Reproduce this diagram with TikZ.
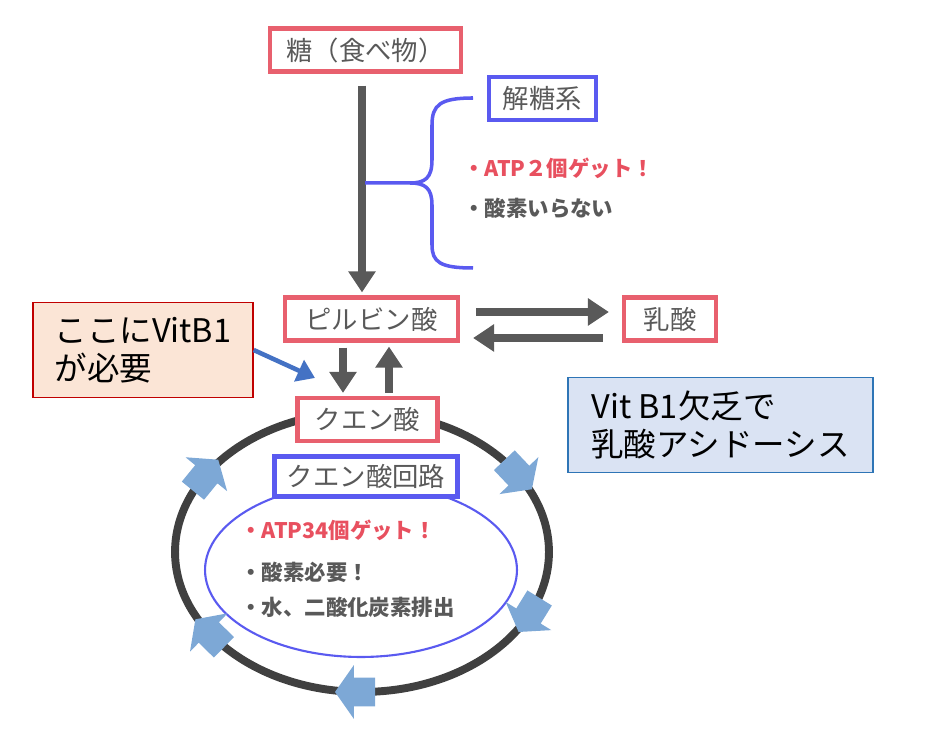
\documentclass[tikz,border=0pt]{standalone}
\usepackage{fontspec}
\setmainfont{Noto Sans CJK JP}
\usetikzlibrary{arrows.meta,shapes.arrows,calc}
\definecolor{boxred}{RGB}{232,96,110}
\definecolor{boxblue}{RGB}{90,90,240}
\definecolor{txtgray}{RGB}{89,89,89}
\definecolor{arrgray}{RGB}{89,89,89}
\definecolor{ringgray}{RGB}{64,64,64}
\definecolor{cyclearr}{RGB}{125,168,214}
\definecolor{bulletred}{RGB}{232,80,95}
\definecolor{notered}{RGB}{192,0,0}
\definecolor{notefill}{RGB}{251,229,214}
\definecolor{infoblue}{RGB}{46,117,182}
\definecolor{infofill}{RGB}{218,227,243}
\definecolor{pointblue}{RGB}{68,114,196}
\newcommand\boxlabelfont{\fontsize{15}{18}\selectfont}
\newcommand\bulletfont{\fontsize{12.2}{15}\selectfont\bfseries}
\newcommand\calloutfont{\fontsize{18.5}{21.5}\selectfont}
\begin{document}
\begin{tikzpicture}[x=0.02cm, y=-0.02cm,
		redbox/.style={draw=boxred, line width=2.4pt, fill=white, text=txtgray, font=\boxlabelfont, minimum height=0.86cm, inner sep=0pt},
		bluebox/.style={redbox, draw=boxblue},
		flow/.style={draw=arrgray, line width=4pt, -{Triangle[length=12pt,width=15pt]}},
		bullet/.style={anchor=west, font=\bulletfont, text=txtgray, inner sep=0pt},
		cyclearrow/.style={shape=single arrow, fill=cyclearr, minimum height=0.8cm, single arrow head extend=0.25cm, single arrow tip angle=110, inner sep=0.28cm},
		callout/.style={line width=0.8pt, align=left, font=\calloutfont, inner sep=0pt, minimum height=1.9cm}]
	\useasboundingbox (0,0) rectangle (944,742);
	% glycolysis
	\node[redbox, minimum width=3.82cm] (sugar) at (365.5,50) {糖（食べ物）};
	\node[bluebox, minimum width=2.14cm] (glyco) at (542.5,98.5) {解糖系};
	\node[redbox, minimum width=3.46cm] (pyruvate) at (371.5,319) {ピルビン酸};
	\node[redbox, minimum width=1.84cm] (lactate) at (670,319) {乳酸};
	\draw[flow, shorten <=0.24cm, shorten >=0.06cm] ([xshift=-0.07cm]sugar.south) -- ([xshift=-0.07cm]sugar.south |- pyruvate.north);
	\draw[boxblue, line width=2pt] (473,98) .. controls (440,98) and (432,105) .. (432,125) -- (432,160) .. controls (432,178) and (425,183) .. (410,183) -- (365,183);
	\draw[boxblue, line width=2pt] (410,183) .. controls (425,183) and (432,188) .. (432,205) -- (432,245) .. controls (432,262) and (440,268) .. (473,268);
	\node[bullet, text=bulletred] (atptwo) at (463,168) {・ATP２個ゲット！};
	\node[bullet] (nooxy) at (463,208) {・酸素いらない};
	\draw[flow, shorten <=0.32cm, shorten >=0.26cm] ([yshift=0.14cm]pyruvate.east) -- ([yshift=0.14cm]lactate.west);
	\draw[flow, shorten <=0.38cm, shorten >=0.26cm] ([yshift=-0.38cm]lactate.west) -- ([yshift=-0.38cm]pyruvate.east);
	% citric acid cycle
	\draw[ringgray, line width=4.5pt] (362,552) ellipse [x radius=3.74cm, y radius=2.8cm];
	\draw[boxblue, line width=1.2pt] (361,570) ellipse [x radius=3.12cm, y radius=1.74cm];
	\foreach \t/\r in {-148.6/50.8, -35.3/-46.5, 24.8/-121.7, 90.6/180, 142.7/135.5}
		\node[cyclearrow, rotate=\r] at ($(362,552)+(\t:187 and 140)$) {};
	\node[redbox, minimum width=2.8cm] (citrate) at (367.5,419.5) {クエン酸};
	\node[bluebox, minimum width=3.66cm, minimum height=0.8cm] (cycle) at (366,476.5) {クエン酸回路};
	\draw[flow, shorten <=0.1cm, shorten >=0.06cm] ([xshift=-0.57cm]pyruvate.south) -- ([xshift=-0.57cm]pyruvate.south |- citrate.north);
	\draw[flow, shorten <=0.06cm, shorten >=0.08cm] ([xshift=0.35cm]pyruvate.south |- citrate.north) -- ([xshift=0.35cm]pyruvate.south);
	\node[bullet, text=bulletred] (atpmany) at (240,530) {・ATP34個ゲット！};
	\node[bullet] (needoxy) at (240,572) {・酸素必要！};
	\node[bullet] (waste) at (240,607) {・水、二酸化炭素排出};
	% notes
	\node[callout, draw=notered, fill=notefill, minimum width=4.4cm] (vitnote) at (143,350) {ここにVitB1\\が必要};
	\node[callout, draw=infoblue, fill=infofill, minimum width=6.1cm] (lacnote) at (720.5,425) {Vit B1欠乏で\\乳酸アシドーシス};
	\coordinate (vitpoint) at (315,378);
	\draw[pointblue, line width=2.6pt, -{Triangle[length=10pt,width=13pt]}] (vitnote.east) -- (vitpoint);
\end{tikzpicture}
\end{document}
